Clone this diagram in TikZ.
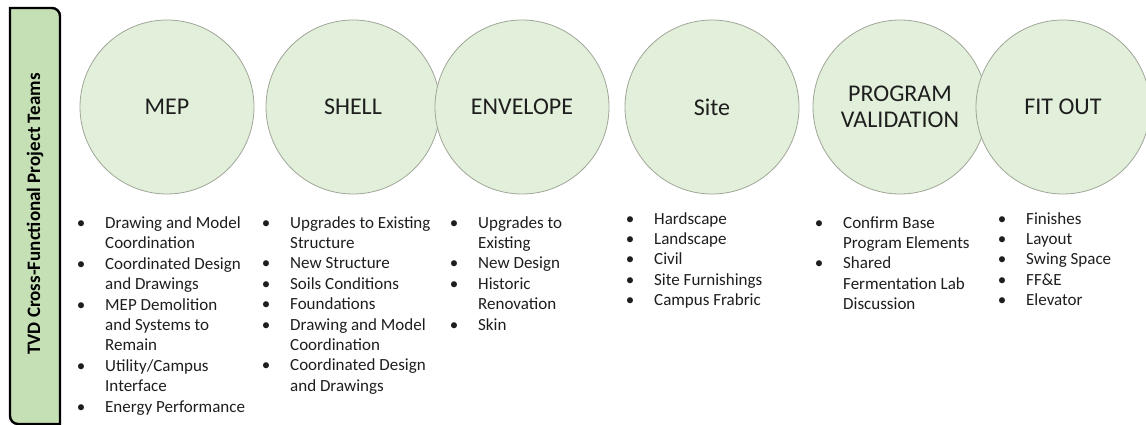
\documentclass[tikz,border=0pt]{standalone}
\usepackage{fontspec}
\setmainfont{Carlito}
\definecolor{ringfill}{RGB}{226,239,218}
\definecolor{ringline}{RGB}{160,166,152}
\definecolor{barfill}{RGB}{197,224,180}
\definecolor{ink}{RGB}{30,30,30}
% bullet centred on the start of its cell
\newcommand{\bul}{\makebox[0pt]{\textbullet}}
% a bulleted column: #1 = line spacing, #2 = rows
\newcommand{\itemcol}[2]{\fontsize{17}{#1}\selectfont\begin{tabular}[t]{@{}l@{\hspace{24pt}}l@{}}#2\end{tabular}}
\tikzset{
  team/.style={circle, draw=ringline, line width=0.8pt, fill=ringfill,
    minimum size=174pt, inner sep=0pt, text=ink, align=center,
    font=\fontsize{24}{26}\selectfont},
  items/.style={anchor=base west, inner sep=0pt, text=ink},
  sidebar/.style={draw=black, line width=2.4pt, fill=barfill},
}
\begin{document}
\begin{tikzpicture}[x=1pt, y=-1pt]
\useasboundingbox (0,0) rectangle (1146,425);
\fill[white] (0,0) rectangle (1146,425);
\clip (0,0) rectangle (1146,425);

% side bar with its title
\draw[sidebar] (10,8) -- (52,8) arc(-90:0:8) -- (60,424) -- (18,424) arc(90:180:8) -- cycle;
\node[rotate=90, font=\fontsize{19}{22}\selectfont\bfseries, text=black, inner sep=0pt]
  (title) at (35,214) {TVD Cross-Functional Project Teams};

% team circles
\node[team] (mep) at (167,107) {MEP};
\node[team] (shell) at (353,107) {SHELL};
\node[team] (env) at (522,107) {ENVELOPE};
\node[team] (site) at (712,107) {Site};
\node[team] (prog) at (900,107) {PROGRAM\\VALIDATION};
\node[team] (fit) at (1063,107) {FIT OUT};

% scope of each team
\node[items] (mepitems) at (81,228.5) {\itemcol{20.4}{%
  \bul & Drawing and Model\\ & Coordination\\
  \bul & Coordinated Design\\ & and Drawings\\
  \bul & MEP Demolition\\ & and Systems to\\ & Remain\\
  \bul & Utility/Campus\\ & Interface\\
  \bul & Energy Performance}};

\node[items] (shellitems) at (266,228) {\itemcol{20.4}{%
  \bul & Upgrades to Existing\\ & Structure\\
  \bul & New Structure\\
  \bul & Soils Conditions\\
  \bul & Foundations\\
  \bul & Drawing and Model\\ & Coordination\\
  \bul & Coordinated Design\\ & and Drawings}};

\node[items] (envitems) at (454,228) {\itemcol{20.4}{%
  \bul & Upgrades to\\ & Existing\\
  \bul & New Design\\
  \bul & Historic\\ & Renovation\\
  \bul & Skin}};

\node[items] (siteitems) at (630,224) {\itemcol{20.4}{%
  \bul & Hardscape\\
  \bul & Landscape\\
  \bul & Civil\\
  \bul & Site Furnishings\\
  \bul & Campus Frabric}};

\node[items] (progitems) at (819,228) {\itemcol{20.4}{%
  \bul & Confirm Base\\ & Program Elements\\
  \bul & Shared\\ & Fermentation Lab\\ & Discussion}};

\node[items] (fititems) at (1002,224) {\itemcol{20.4}{%
  \bul & Finishes\\
  \bul & Layout\\
  \bul & Swing Space\\
  \bul & FF\&E\\
  \bul & Elevator}};
\end{tikzpicture}
\end{document}
